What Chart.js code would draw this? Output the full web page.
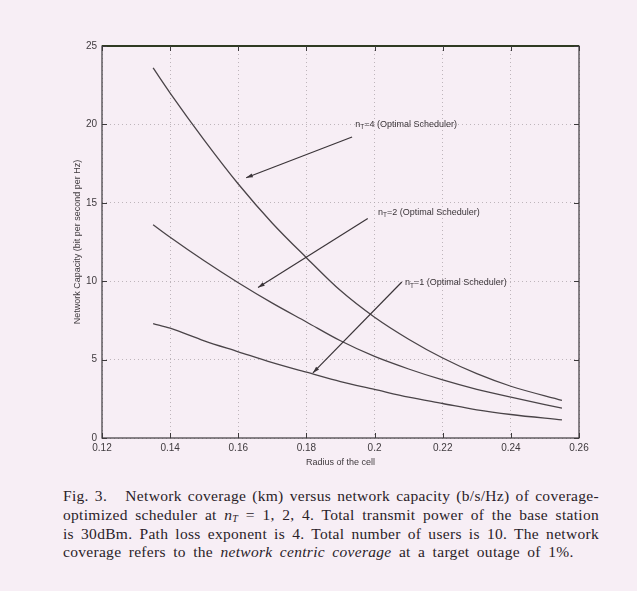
<!doctype html>
<html>
<head>
<meta charset="utf-8">
<title>Network coverage vs capacity</title>
<script src="https://cdn.jsdelivr.net/npm/chart.js"></script>
<style>
  html, body { margin: 0; padding: 0; background: #f7eef5; }
  #wrap { position: relative; width: 637px; height: 591px; overflow: hidden; }
  #plot { position: absolute; left: 0; top: 0; }
  #caption {
    position: absolute; left: 63px; top: 487px; width: 536px;
    font-family: "Liberation Serif", "Times New Roman", serif;
    font-size: 15.5px; line-height: 18.8px; letter-spacing: 0.3px; color: #2a2228;
  }
  #caption span { display: block; text-align: justify; text-align-last: justify; white-space: nowrap; }
  #caption span.last { text-align-last: left; word-spacing: 3.2px; }
  #caption sub { font-size: 10px; vertical-align: -2px; line-height: 0; }
</style>
</head>
<body>
<div id="wrap">
  <canvas id="plot" width="637" height="470"></canvas>
  <div id="caption">
    <span>Fig. 3.&nbsp;&nbsp; Network coverage (km) versus network capacity (b/s/Hz) of coverage-</span>
    <span>optimized scheduler at <i>n</i><sub><i>T</i></sub> = 1, 2, 4. Total transmit power of the base station</span>
    <span>is 30dBm. Path loss exponent is 4. Total number of users is 10. The network</span>
    <span class="last">coverage refers to the <i>network centric coverage</i> at a target outage of 1%.</span>
  </div>
</div>
<script>
  // cell radius (km) and capacity (b/s/Hz) for each number of transmit antennas
  const radius = [0.135, 0.14, 0.15, 0.16, 0.17, 0.18, 0.19, 0.2, 0.21, 0.22, 0.23, 0.24, 0.255];
  const capNt4 = [23.6, 22.0, 19.0, 16.2, 13.7, 11.5, 9.4, 7.7, 6.3, 5.1, 4.1, 3.3, 2.4];
  const capNt2 = [13.6, 12.8, 11.3, 9.9, 8.6, 7.4, 6.2, 5.2, 4.4, 3.7, 3.1, 2.6, 1.9];
  const capNt1 = [7.3, 7.0, 6.2, 5.5, 4.8, 4.2, 3.6, 3.1, 2.6, 2.2, 1.8, 1.5, 1.15];

  const xTicks = [0.12, 0.14, 0.16, 0.18, 0.2, 0.22, 0.24, 0.26];
  const yTicks = [0, 5, 10, 15, 20, 25];

  // annotation arrows: label anchor, arrow tail, arrow head (data units)
  const notes = [
    { nt: "4", label: [0.1943, 20.0], tail: [0.1934, 19.2], head: [0.1623, 16.6] },
    { nt: "2", label: [0.201, 14.4], tail: [0.198, 14.0], head: [0.1658, 9.6] },
    { nt: "1", label: [0.2089, 9.9], tail: [0.208, 9.95], head: [0.1819, 4.15] },
  ];

  const toPoints = (ys) => radius.map((x, i) => ({ x: x, y: ys[i] }));
  const sans = "'Liberation Sans', Arial, sans-serif";
  const ink = "#3f3a3e";

  const curve = (label, ys) => ({
    label: label,
    data: toPoints(ys),
    borderColor: "#4a4448",
    borderWidth: 1.3,
    pointRadius: 0,
    cubicInterpolationMode: "monotone",
    fill: false,
  });

  // box frame, inward tick marks and the arrow labels
  const framePlugin = {
    id: "frame",
    afterDatasetsDraw(chart) {
      const { ctx, chartArea: a, scales } = chart;
      const xs = scales.x, ys = scales.y;
      ctx.save();
      ctx.strokeStyle = "#3d3a3c";
      ctx.lineWidth = 1.2;
      ctx.strokeRect(a.left, a.top, a.right - a.left, a.bottom - a.top);
      ctx.strokeStyle = "#2f3a22";
      ctx.lineWidth = 2;
      ctx.beginPath();
      ctx.moveTo(a.left, a.top);
      ctx.lineTo(a.right, a.top);
      ctx.stroke();
      ctx.strokeStyle = "#3d3a3c";
      ctx.lineWidth = 1;
      ctx.beginPath();
      xTicks.forEach((v) => {
        const px = Math.round(xs.getPixelForValue(v)) + 0.5;
        ctx.moveTo(px, a.bottom); ctx.lineTo(px, a.bottom - 5);
        ctx.moveTo(px, a.top); ctx.lineTo(px, a.top + 5);
      });
      yTicks.forEach((v) => {
        const py = Math.round(ys.getPixelForValue(v)) + 0.5;
        ctx.moveTo(a.left, py); ctx.lineTo(a.left + 5, py);
        ctx.moveTo(a.right, py); ctx.lineTo(a.right - 5, py);
      });
      ctx.stroke();

      ctx.strokeStyle = "#3a3438";
      ctx.fillStyle = "#3a3438";
      ctx.lineWidth = 1.2;
      notes.forEach((n) => {
        const tx = xs.getPixelForValue(n.tail[0]), ty = ys.getPixelForValue(n.tail[1]);
        const hx = xs.getPixelForValue(n.head[0]), hy = ys.getPixelForValue(n.head[1]);
        ctx.beginPath();
        ctx.moveTo(tx, ty);
        ctx.lineTo(hx, hy);
        ctx.stroke();
        const ang = Math.atan2(hy - ty, hx - tx);
        ctx.beginPath();
        ctx.moveTo(hx, hy);
        ctx.lineTo(hx - 7 * Math.cos(ang - 0.3), hy - 7 * Math.sin(ang - 0.3));
        ctx.lineTo(hx - 7 * Math.cos(ang + 0.3), hy - 7 * Math.sin(ang + 0.3));
        ctx.closePath();
        ctx.fill();

        let lx = xs.getPixelForValue(n.label[0]);
        const ly = ys.getPixelForValue(n.label[1]);
        ctx.textBaseline = "middle";
        ctx.textAlign = "left";
        ctx.font = "9px " + sans;
        ctx.fillText("n", lx, ly);
        lx += ctx.measureText("n").width;
        ctx.font = "6.5px " + sans;
        ctx.fillText("T", lx, ly + 3);
        lx += ctx.measureText("T").width;
        ctx.font = "9px " + sans;
        ctx.fillText("=" + n.nt + " (Optimal Scheduler)", lx, ly);
      });
      ctx.restore();
    },
  };

  const ctx = document.getElementById("plot").getContext("2d");
  new Chart(ctx, {
    type: "line",
    data: {
      datasets: [
        curve("nT=4 (Optimal Scheduler)", capNt4),
        curve("nT=2 (Optimal Scheduler)", capNt2),
        curve("nT=1 (Optimal Scheduler)", capNt1),
      ],
    },
    options: {
      responsive: false,
      animation: false,
      layout: { padding: { left: 0, top: 46, right: 58, bottom: 0 } },
      plugins: { legend: { display: false }, tooltip: { enabled: false } },
      scales: {
        x: {
          type: "linear",
          min: 0.12,
          max: 0.26,
          afterBuildTicks: (s) => { s.ticks = xTicks.map((v) => ({ value: v })); },
          afterFit: (s) => { s.height = 32; },
          grid: { color: "#aea6ac", lineWidth: 0.8, drawTicks: false },
          border: { display: false, dash: [1, 3] },
          ticks: {
            padding: 4,
            color: ink,
            font: { family: sans, size: 10 },
            maxRotation: 0,
            callback: (v) => String(+v.toFixed(2)),
          },
          title: {
            display: true,
            text: "Radius of the cell",
            color: ink,
            font: { family: sans, size: 9 },
            padding: { top: 0, bottom: 2 },
          },
        },
        y: {
          min: 0,
          max: 25,
          afterBuildTicks: (s) => { s.ticks = yTicks.map((v) => ({ value: v })); },
          afterFit: (s) => { s.width = 102; },
          grid: { color: "#aea6ac", lineWidth: 0.8, drawTicks: false },
          border: { display: false, dash: [1, 3] },
          ticks: {
            padding: 5,
            color: ink,
            font: { family: sans, size: 10 },
          },
          title: {
            display: true,
            text: "Network Capacity (bit per second per Hz)",
            color: ink,
            font: { family: sans, size: 9 },
            padding: { top: 72, bottom: 0 },
          },
        },
      },
    },
    plugins: [framePlugin],
  });
</script>
</body>
</html>
